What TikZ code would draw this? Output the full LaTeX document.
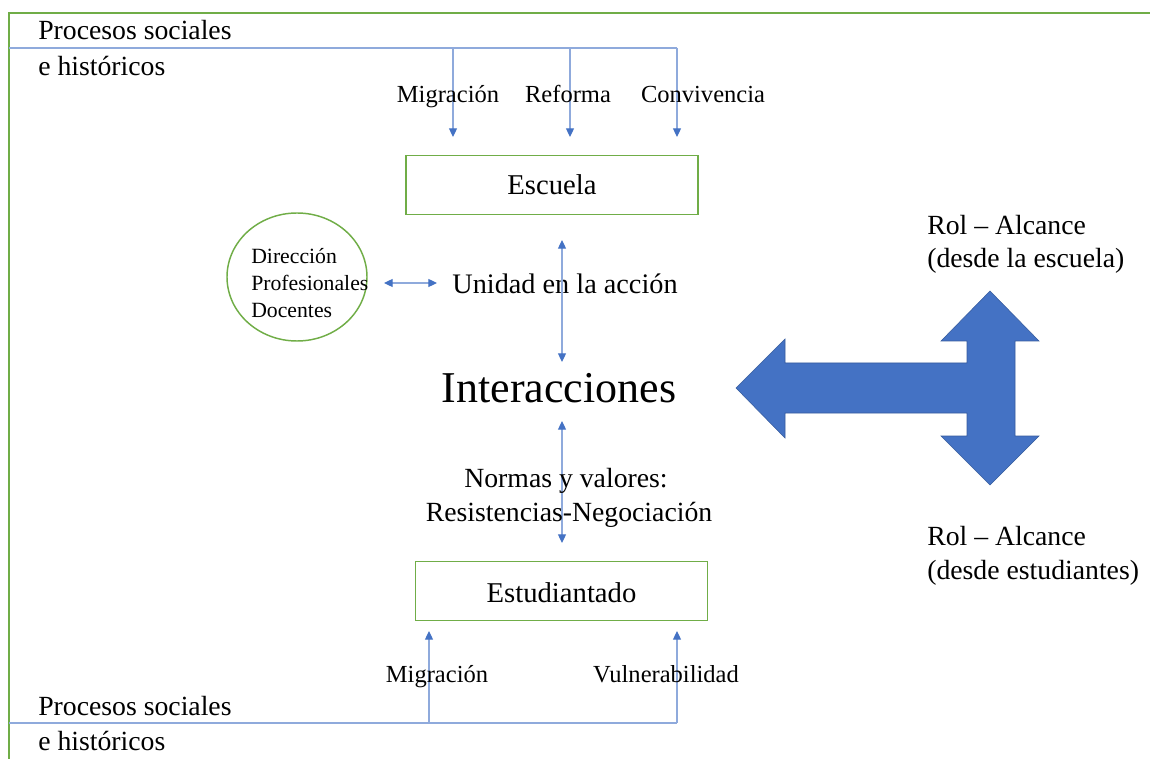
\documentclass[tikz,border=0pt]{standalone}
\usepackage{fontspec}
\setmainfont{Liberation Serif}
\usetikzlibrary{arrows.meta,shapes.geometric}
\definecolor{grn}{HTML}{70AD47}
\definecolor{blu}{HTML}{4472C4}
\definecolor{lblu}{HTML}{8FAADC}
\tikzset{
  frame/.style={draw=grn, line width=1.1pt},
  thin/.style={draw=lblu, line width=0.9pt},
  tip/.style={-{Triangle[width=6pt,length=6.5pt,fill=blu,color=blu]}},
  dtip/.style={{Triangle[width=6pt,length=6.5pt,fill=blu,color=blu]}-{Triangle[width=6pt,length=6.5pt,fill=blu,color=blu]}},
  lbl/.style={inner sep=0pt, anchor=base, font=\fontsize{18.4}{22}\selectfont},
  big/.style={inner sep=0pt, font=\fontsize{20.8}{25}\selectfont},
  box/.style={draw=grn, line width=1.1pt, minimum height=44pt, inner sep=0pt, font=\fontsize{21.5}{25}\selectfont}
}
\begin{document}
\begin{tikzpicture}[x=0.75pt,y=-0.75pt]
\useasboundingbox (0,0) rectangle (1150,759);
% outer frame
\coordinate (fbl) at (9,759);
\coordinate (ftl) at (9,13);
\coordinate (ftr) at (1150,13);
\draw[frame] (fbl) -- (ftl) -- (ftr);
% top process line
\coordinate (tl) at (9,48);
\coordinate (t1) at (453,48);
\coordinate (t2) at (570,48);
\coordinate (t3) at (677,48);
\coordinate (e1) at (453,137);
\coordinate (e2) at (570,137);
\coordinate (e3) at (677,137);
\draw[thin] (tl) -- (t3);
\draw[thin,tip] (t1) -- (e1);
\draw[thin,tip] (t2) -- (e2);
\draw[thin,tip] (t3) -- (e3);
\node[big, anchor=base west] (ps1) at (38,40) {Procesos sociales};
\node[big, anchor=base west] (eh1) at (38,76) {e históricos};
\node[lbl] (mig1) at (448,103) {Migración};
\node[lbl] (ref) at (568,103) {Reforma};
\node[lbl] (conv) at (703,103) {Convivencia};
% Escuela
\node[box, minimum width=219pt] (esc) at (552,185) {Escuela};
% circle
\node[draw=grn, line width=1.1pt, ellipse, minimum width=105pt, minimum height=96pt, inner sep=0pt] (circ) at (297,277) {};
\node[inner sep=0pt, align=left, anchor=west, font=\fontsize{16.3}{20.3}\selectfont] (circt) at (251,283) {Dirección\\Profesionales\\Docentes};
\coordinate (h1) at (384,283);
\coordinate (h2) at (437,283);
\draw[thin,dtip] (h1) -- (h2);
\node[inner sep=0pt, font=\fontsize{21.2}{25}\selectfont] (uni) at (565,284) {Unidad en la acción};
\coordinate (v1) at (562,240);
\coordinate (v2) at (562,362);
\draw[thin,dtip] (v1) -- (v2);
\node[inner sep=0pt, font=\fontsize{33}{38}\selectfont] (inter) at (559,388) {Interacciones};
\coordinate (w1) at (562,421);
\coordinate (w2) at (562,543);
\draw[thin,dtip] (w1) -- (w2);
\node[big, anchor=base] (norm1) at (566,487) {Normas y valores:};
\node[big, anchor=base] (norm2) at (569,521) {Resistencias-Negociación};
% Estudiantado
\node[box, minimum width=219pt, text height=17pt, text depth=0pt] (est) at (561.5,591) {Estudiantado};
% bottom process line
\coordinate (bl) at (9,723);
\coordinate (b1) at (429,723);
\coordinate (b2) at (677,723);
\coordinate (u1) at (429,631);
\coordinate (u2) at (677,631);
\draw[thin] (bl) -- (b2);
\draw[thin,tip] (b1) -- (u1);
\draw[thin,tip] (b2) -- (u2);
\node[lbl] (mig2) at (437,682) {Migración};
\node[lbl] (vul) at (666,682) {Vulnerabilidad};
\node[big, anchor=base west] (ps2) at (38,715) {Procesos sociales};
\node[big, anchor=base west] (eh2) at (38,750) {e históricos};
% big arrow
\fill[blu, draw=blu!80!black, line width=0.4pt]
  (736,388) -- (785,339) -- (785,363) -- (967,363) -- (967,341) -- (941,341)
  -- (990,291) -- (1039,341) -- (1015,341) -- (1015,436) -- (1039,436)
  -- (990,485) -- (941,436) -- (967,436) -- (967,413) -- (785,413) -- (785,438) -- cycle;
% right labels
\node[big, anchor=west] (r1) at (927,225) {Rol – Alcance};
\node[big, anchor=west] (r2) at (927,261) {(desde la escuela)};
\node[big, anchor=west] (r3) at (927,536) {Rol – Alcance};
\node[big, anchor=west] (r4) at (927,573) {(desde estudiantes)};
\end{tikzpicture}
\end{document}
